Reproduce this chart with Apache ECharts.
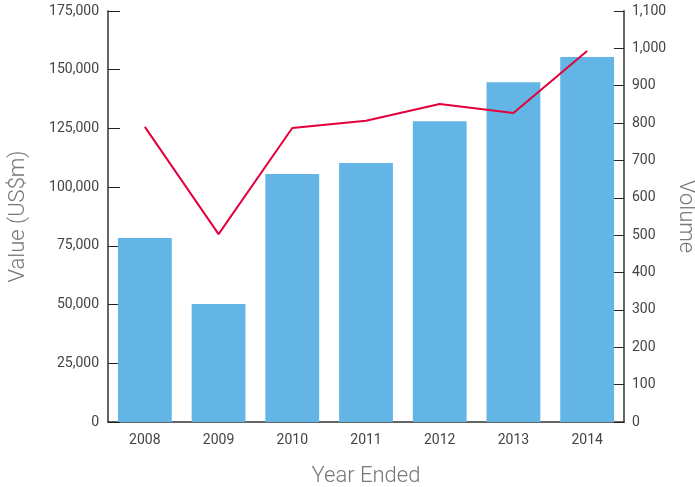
<!DOCTYPE html>
<html>
<head>
<meta charset="utf-8">
<script src="https://cdn.jsdelivr.net/npm/echarts@6/dist/echarts.min.js"></script>
<style>
  html, body { margin: 0; padding: 0; background: #fff; }
  #chart { width: 695px; height: 487px; }
</style>
</head>
<body>
<div id="chart"></div>
<script>
var years = ['2008', '2009', '2010', '2011', '2012', '2013', '2014'];
var valueUSm = [78300, 50200, 105600, 110300, 128100, 144700, 155400];
var volume = [790, 503, 787, 806, 851, 827, 993];

function fmt(v) {
  return v.toLocaleString('en-US');
}

var chart = echarts.init(document.getElementById('chart'));
chart.setOption({
  animation: false,
  textStyle: { fontFamily: 'Roboto' },
  grid: { left: 108, right: 71, top: 11, bottom: 65, containLabel: false, outerBoundsMode: 'none' },
  xAxis: {
    type: 'category',
    data: years,
    name: 'Year Ended',
    nameLocation: 'middle',
    nameGap: 43,
    nameTextStyle: { color: '#777', fontSize: 22, fontWeight: 300 },
    axisLine: { lineStyle: { color: '#333', width: 1.5 } },
    axisTick: { inside: true, length: 10, lineStyle: { color: '#222' } },
    axisLabel: { color: '#444', fontSize: 14, margin: 11 }
  },
  yAxis: [{
    type: 'value',
    min: 0,
    max: 175000,
    interval: 25000,
    name: 'Value (US$m)',
    nameLocation: 'middle',
    nameGap: 79,
    nameTextStyle: { color: '#777', fontSize: 22, fontWeight: 300 },
    axisLine: { show: true, lineStyle: { color: '#666', width: 2 } },
    axisTick: { show: true, inside: true, length: 12, lineStyle: { color: '#222' } },
    axisLabel: { color: '#444', fontSize: 14, margin: 9, formatter: fmt },
    splitLine: { show: false }
  }, {
    type: 'value',
    min: 0,
    max: 1100,
    interval: 100,
    position: 'right',
    name: 'Volume',
    nameLocation: 'middle',
    nameGap: 50,
    nameRotate: -90,
    nameMoveOverlap: false,
    nameTextStyle: { color: '#777', fontSize: 22, fontWeight: 300 },
    axisLine: { show: true, lineStyle: { color: '#666', width: 2 } },
    axisTick: { show: true, inside: true, length: 10, lineStyle: { color: '#222' } },
    axisLabel: { color: '#444', fontSize: 14, margin: 8, formatter: fmt },
    splitLine: { show: false }
  }],
  series: [{
    type: 'bar',
    data: valueUSm,
    barCategoryGap: '27%',
    itemStyle: { color: '#63b5e5' }
  }, {
    type: 'line',
    yAxisIndex: 1,
    data: volume,
    symbol: 'none',
    lineStyle: { color: '#e3003b', width: 2 }
  }]
});
</script>
</body>
</html>
